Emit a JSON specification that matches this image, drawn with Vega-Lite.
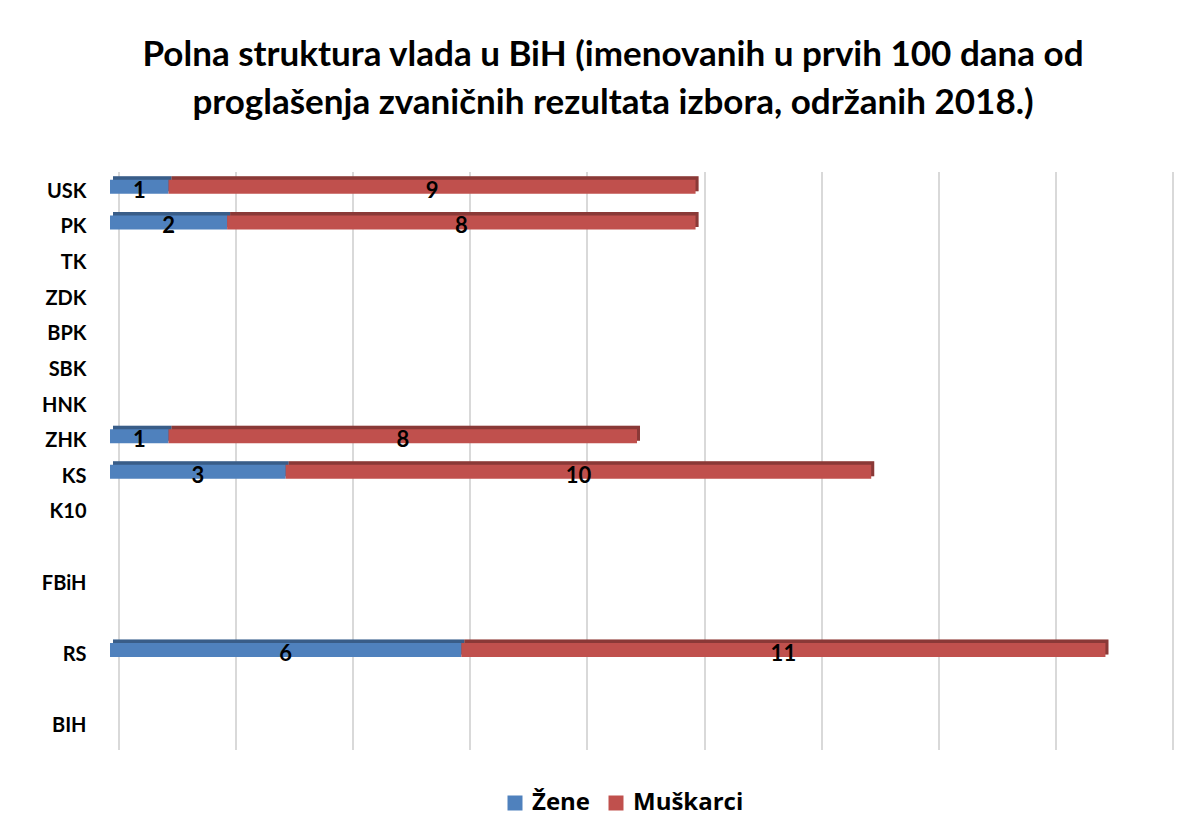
{
  "$schema": "https://vega.github.io/schema/vega-lite/v6.json",
  "autosize": "none",
  "width": 1054,
  "height": 578,
  "padding": {"left": 110, "top": 163, "right": 36, "bottom": 96},
  "background": "white",
  "title": {
    "text": ["Polna struktura vlada u BiH (imenovanih u prvih 100 dana od", "proglašenja zvaničnih rezultata izbora, održanih 2018.)"],
    "font": "Lato",
    "fontSize": 35,
    "fontWeight": "bold",
    "color": "black",
    "lineHeight": 48,
    "anchor": "middle",
    "frame": "group",
    "dx": -24,
    "offset": 42
  },
  "data": {
    "values": [
      {"cat": "USK", "gender": "Žene", "value": 1},
      {"cat": "USK", "gender": "Muškarci", "value": 9},
      {"cat": "PK", "gender": "Žene", "value": 2},
      {"cat": "PK", "gender": "Muškarci", "value": 8},
      {"cat": "ZHK", "gender": "Žene", "value": 1},
      {"cat": "ZHK", "gender": "Muškarci", "value": 8},
      {"cat": "KS", "gender": "Žene", "value": 3},
      {"cat": "KS", "gender": "Muškarci", "value": 10},
      {"cat": "RS", "gender": "Žene", "value": 6},
      {"cat": "RS", "gender": "Muškarci", "value": 11}
    ]
  },
  "encoding": {
    "y": {
      "field": "cat",
      "type": "nominal",
      "title": null,
      "scale": {
        "domain": ["USK", "PK", "TK", "ZDK", "BPK", "SBK", "HNK", "ZHK", "KS", "K10", " ", "FBiH", "  ", "RS", "   ", "BIH"],
        "paddingInner": 0,
        "paddingOuter": 0.1123,
        "align": 0.75
      },
      "axis": {
        "ticks": false,
        "domain": false,
        "labelFont": "Lato",
        "labelFontSize": 20,
        "labelFontWeight": "bold",
        "labelColor": "black",
        "labelPadding": 24,
        "labelOffset": 5,
        "grid": false
      }
    },
    "order": {"field": "gender", "sort": "descending"}
  },
  "layer": [
    {
      "mark": {"type": "bar", "size": 15, "xOffset": 3, "x2Offset": 4, "yOffset": -3},
      "encoding": {
        "x": {
          "field": "value",
          "type": "quantitative",
          "stack": "zero",
          "title": null,
          "scale": {"domain": [0, 18], "nice": false},
          "axis": {
            "labels": false,
            "ticks": false,
            "domain": false,
            "grid": true,
            "gridColor": "#D9D9D9",
            "gridWidth": 2,
            "values": [0, 2, 4, 6, 8, 10, 12, 14, 16, 18],
            "translate": 9
          }
        },
        "color": {
          "field": "gender",
          "type": "nominal",
          "scale": {"domain": ["Žene", "Muškarci"], "range": ["#4F81BD", "#C0504D"]},
          "legend": {
            "title": null,
            "orient": "none",
            "legendX": 393,
            "legendY": 628,
            "direction": "horizontal",
            "symbolType": "square",
            "symbolSize": 225,
            "symbolStrokeWidth": 0,
            "symbolOpacity": 1,
            "labelFont": "Open Sans",
            "labelFontSize": 24,
            "labelFontWeight": "bold",
            "labelColor": "black",
            "labelOffset": 5,
            "columnPadding": 13
          }
        }
      }
    },
    {
      "mark": {"type": "bar", "size": 15, "xOffset": 3, "x2Offset": 4, "yOffset": -3, "color": "black", "opacity": 0.28},
      "encoding": {
        "x": {"field": "value", "type": "quantitative", "stack": "zero"},
        "detail": {"field": "gender", "type": "nominal"}
      }
    },
    {
      "mark": {"type": "bar", "size": 14},
      "encoding": {
        "x": {"field": "value", "type": "quantitative", "stack": "zero"},
        "color": {"field": "gender", "type": "nominal"}
      }
    },
    {
      "mark": {"type": "text", "font": "Lato", "fontSize": 22, "fontWeight": "bold", "color": "black", "dy": 4},
      "encoding": {
        "x": {"field": "value", "type": "quantitative", "stack": "zero", "bandPosition": 0.5},
        "detail": {"field": "gender", "type": "nominal"},
        "text": {"field": "value", "type": "quantitative"}
      }
    }
  ],
  "config": {
    "view": {"stroke": null}
  }
}
